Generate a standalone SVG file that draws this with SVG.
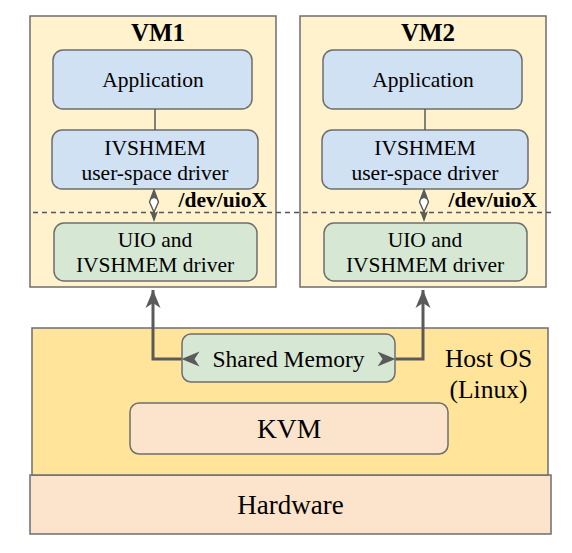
<svg xmlns="http://www.w3.org/2000/svg" width="572" height="553" viewBox="0 0 572 553">
  <defs>
    <style>
      text { font-family: "Liberation Serif", "Times New Roman", serif; fill: #000; text-anchor: middle; }
      .vm { fill: #FFF2CC; stroke: #6E6E6E; stroke-width: 1.5; }
      .blue { fill: #CFE1F3; stroke: #6E6E6E; stroke-width: 1.5; }
      .green { fill: #D6E8D4; stroke: #6E6E6E; stroke-width: 1.5; }
      .host { fill: #FFE499; stroke: #6E6E6E; stroke-width: 1.5; }
      .peach { fill: #FCE4CC; stroke: #6E6E6E; stroke-width: 1.5; }
      .t21 { font-size: 21.5px; }
      .title { font-size: 25px; font-weight: bold; }
      .dev { font-size: 21.5px; font-weight: bold; text-anchor: end; }
      .thick { fill: none; stroke: #5A5A5A; stroke-width: 3; stroke-linejoin: miter; }
      .thin { fill: none; stroke: #5A5A5A; stroke-width: 1.5; }
    </style>
    <marker id="ah" viewBox="-18 -8 20 16" refX="0" refY="0" markerWidth="20" markerHeight="16" markerUnits="userSpaceOnUse" orient="auto">
      <path d="M0,0 L-18,-7.5 L-13,0 L-18,7.5 Z" fill="#5A5A5A"/>
    </marker>
  </defs>

  <!-- Hardware -->
  <g id="hardware">
    <rect class="peach" x="30" y="475" width="521" height="59"/>
    <text x="290.5" y="514" style="font-size:27px">Hardware</text>
  </g>

  <!-- Host OS -->
  <g id="host">
    <rect class="host" x="32" y="328" width="516" height="147"/>
    <text x="488.5" y="367" style="font-size:25.5px">Host OS</text>
    <text x="488.5" y="398" style="font-size:25.5px">(Linux)</text>
  </g>

  <g id="kvm">
    <rect class="peach" x="130" y="403" width="318" height="51" rx="9"/>
    <text x="289" y="438" style="font-size:27.5px">KVM</text>
  </g>

  <g id="shared-memory">
    <rect class="green" x="182" y="334" width="213" height="48" rx="9"/>
    <text x="288.5" y="367" style="font-size:23.5px">Shared Memory</text>
  </g>

  <!-- VM1 -->
  <g id="vm1">
    <rect class="vm" x="30" y="16" width="246" height="271"/>
    <text class="title" x="158" y="41">VM1</text>
  </g>
  <g id="vm1-app">
    <rect class="blue" x="53" y="50" width="199" height="59" rx="10"/>
    <text class="t21" x="153" y="87">Application</text>
  </g>
  <g id="vm1-ivshmem">
    <rect class="blue" x="52" y="130" width="206" height="59" rx="10"/>
    <text class="t21" x="155" y="155">IVSHMEM</text>
    <text class="t21" x="155" y="180">user-space driver</text>
  </g>
  <g id="vm1-uio">
    <rect class="green" x="54" y="223" width="203" height="58" rx="10"/>
    <text class="t21" x="155" y="247">UIO and</text>
    <text class="t21" x="155" y="272">IVSHMEM driver</text>
  </g>

  <!-- VM2 -->
  <g id="vm2">
    <rect class="vm" x="300" y="16" width="246" height="271"/>
    <text class="title" x="428" y="41">VM2</text>
  </g>
  <g id="vm2-app">
    <rect class="blue" x="323" y="50" width="199" height="59" rx="10"/>
    <text class="t21" x="423" y="87">Application</text>
  </g>
  <g id="vm2-ivshmem">
    <rect class="blue" x="322" y="130" width="206" height="59" rx="10"/>
    <text class="t21" x="425" y="155">IVSHMEM</text>
    <text class="t21" x="425" y="180">user-space driver</text>
  </g>
  <g id="vm2-uio">
    <rect class="green" x="324" y="223" width="203" height="58" rx="10"/>
    <text class="t21" x="425" y="247">UIO and</text>
    <text class="t21" x="425" y="272">IVSHMEM driver</text>
  </g>

  <!-- boundary and labels -->
  <g id="boundary">
    <line x1="33" y1="212.5" x2="552" y2="212.5" stroke="#555" stroke-width="1.3" stroke-dasharray="5,4"/>
    <text class="dev" x="267" y="207">/dev/uioX</text>
    <text class="dev" x="537" y="207">/dev/uioX</text>
  </g>

  <!-- connectors -->
  <g id="connectors">
    <line class="thin" x1="155" y1="109" x2="155" y2="130"/>
    <line class="thin" x1="425" y1="109" x2="425" y2="130"/>

    <g id="vm1-dev-arrow">
      <line class="thin" x1="154" y1="192" x2="154" y2="220"/>
      <path d="M154,190 L158.5,202 L154,212 L149.5,202 Z" fill="#fff" stroke="#5A5A5A" stroke-width="1.4"/>
      <path d="M154,190 L158,200 L154,198 L150,200 Z" fill="#5A5A5A"/>
      <path d="M154,222 L150,211 L154,213.5 L158,211 Z" fill="#5A5A5A"/>
    </g>
    <g id="vm2-dev-arrow">
      <line class="thin" x1="424" y1="192" x2="424" y2="220"/>
      <path d="M424,190 L428.5,202 L424,212 L419.5,202 Z" fill="#fff" stroke="#5A5A5A" stroke-width="1.4"/>
      <path d="M424,190 L428,200 L424,198 L420,200 Z" fill="#5A5A5A"/>
      <path d="M424,222 L420,211 L424,213.5 L428,211 Z" fill="#5A5A5A"/>
    </g>

    <path class="thick" d="M181.5,359 L153,359 L153,290" marker-start="url(#ah)" marker-end="url(#ah)"/>
    <path class="thick" d="M395.5,359 L423,359 L423,290" marker-start="url(#ah)" marker-end="url(#ah)"/>
  </g>
</svg>
